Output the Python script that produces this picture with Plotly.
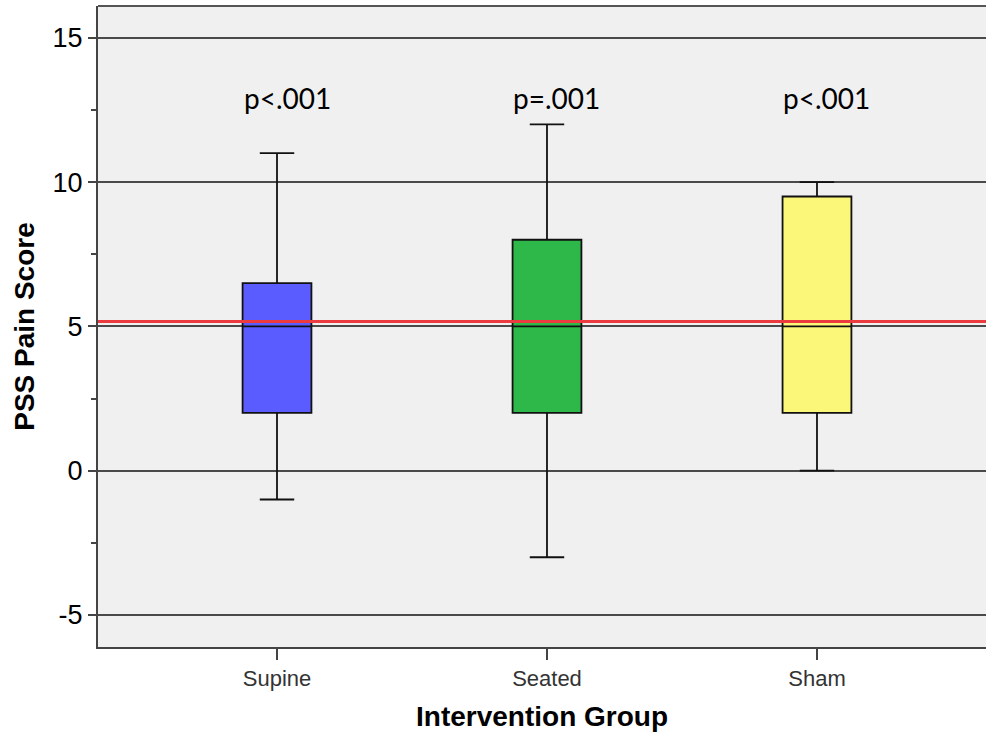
import plotly.graph_objects as go

groups = ["Supine", "Seated", "Sham"]
q1 = [2, 2, 2]
median = [5, 5, 5]
q3 = [6.5, 8, 9.5]
lower = [-1, -3, 0]
upper = [11, 12, 10]
colors = ["#5a5cff", "#2eb84a", "#fbf778"]
pvals = ["p<.001", "p=.001", "p<.001"]
ref_line = 5.17
p_y = 12.9
ytick_vals = [-5, 0, 5, 10, 15]
ytick_text = ["-5", "0", "5", "10", "15"]

fig = go.Figure()
for i, g in enumerate(groups):
    fig.add_trace(go.Box(
        x=[g], q1=[q1[i]], median=[median[i]], q3=[q3[i]],
        lowerfence=[lower[i]], upperfence=[upper[i]],
        fillcolor=colors[i], line=dict(color="#111111", width=1.8),
        width=0.255, whiskerwidth=0.5, boxpoints=False,
        showlegend=False, hoverinfo="skip",
    ))

for i, g in enumerate(groups):
    fig.add_annotation(x=g, y=p_y, text=pvals[i], showarrow=False,
                       xshift=10, font=dict(family="Lato, Open Sans, Liberation Sans", size=28, color="#000000"))

fig.add_shape(type="line", xref="paper", yref="y", x0=0, x1=1, y0=ref_line, y1=ref_line,
              line=dict(color="#ec3b3f", width=3), layer="above")
fig.add_shape(type="line", xref="paper", yref="paper", x0=0, x1=1, y0=1, y1=1,
              line=dict(color="#555555", width=2))

fig.update_layout(
    width=986, height=738,
    margin=dict(l=98, r=0, t=6, b=91),
    paper_bgcolor="white", plot_bgcolor="#f0f0f0",
    boxmode="overlay",
    font=dict(family="Liberation Sans, Arial", color="#000000"),
)
fig.update_xaxes(
    type="category", categoryorder="array", categoryarray=groups,
    range=[-0.663, 2.626],
    showline=True, linecolor="#444444", linewidth=2,
    ticks="outside", ticklen=11, tickwidth=1.5, tickcolor="#444444",
    tickfont=dict(size=22, color="#333333"), showgrid=False,
    title=dict(text="<b>Intervention Group</b>", font=dict(size=28, color="#000000"), standoff=16),
)
fig.update_yaxes(
    range=[-6.11, 16.1], tickvals=ytick_vals, ticktext=ytick_text,
    showline=True, linecolor="#444444", linewidth=2,
    ticks="outside", ticklen=8, tickwidth=1.5, tickcolor="#444444",
    minor=dict(tickvals=[-2.5, 2.5, 7.5, 12.5], ticks="outside", ticklen=5, tickcolor="#444444", showgrid=False),
    showgrid=True, gridcolor="#4a4a4a", gridwidth=1.5, zeroline=False,
    tickfont=dict(size=27, color="#000000"),
    title=dict(text="<b>PSS Pain Score</b>", font=dict(size=28, color="#000000"), standoff=10),
)

fig.write_html("out.html", config={"displayModeBar": False},
               post_script="document.body.style.margin='0';document.body.style.overflow='hidden';")
